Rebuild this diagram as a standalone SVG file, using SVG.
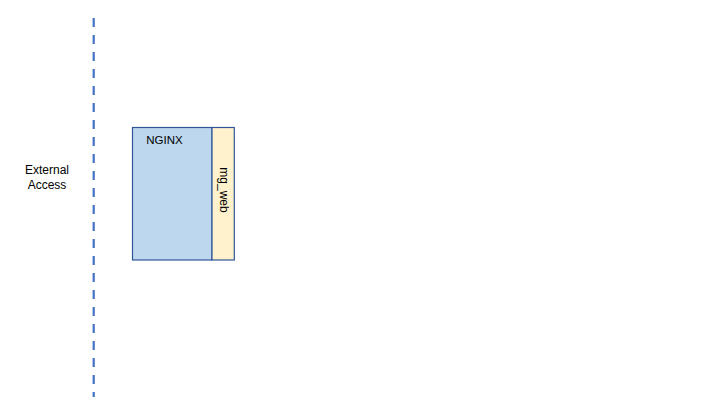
<svg xmlns="http://www.w3.org/2000/svg" width="720" height="405" viewBox="0 0 720 405">
<style>
text{font-family:"Liberation Sans",Arial,sans-serif;font-size:12px;fill:#000}
.box{stroke:#2F5597;stroke-width:1.2}
</style>
<rect width="720" height="405" fill="#fff"/>
<g id="boundary">
<line x1="93.7" y1="18" x2="93.7" y2="397" stroke="#4472C4" stroke-width="2.2" stroke-dasharray="9,8"/>
</g>
<g id="external-access">
<text x="47" y="174" text-anchor="middle">External</text>
<text x="47" y="189" text-anchor="middle">Access</text>
</g>
<g id="nginx">
<rect class="box" x="132.5" y="127.5" width="79.5" height="132.5" fill="#BDD7EE"/>
<text x="164.5" y="143.5" text-anchor="middle" style="font-size:11.5px">NGINX</text>
</g>
<g id="mg_web">
<rect class="box" x="212" y="127.5" width="22.3" height="132.5" fill="#FFF2CC"/>
<text transform="translate(220,190) rotate(90)" text-anchor="middle">mg_web</text>
</g>
<g id="connectors"></g>
</svg>
